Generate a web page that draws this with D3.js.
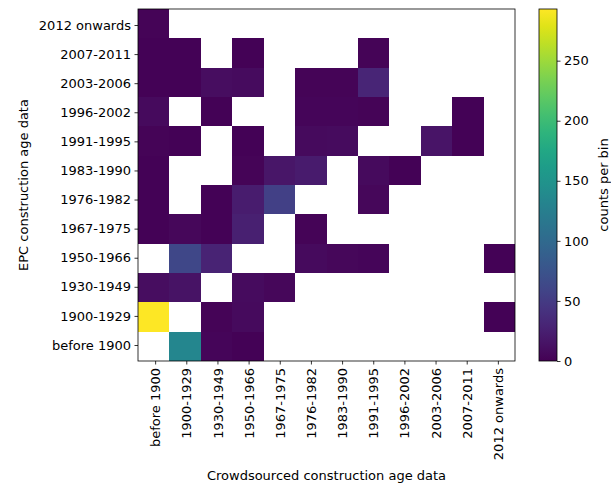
<!DOCTYPE html>
<html lang="en">
<head>
    <meta charset="UTF-8">
    <title>Construction age heatmap</title>
    <script src="https://d3js.org/d3.v7.min.js"></script>
    <style>
        body { margin: 0; background: #fff; }
        svg { display: block; font-family: "DejaVu Sans", sans-serif; }
        .tick text { font-family: "DejaVu Sans", sans-serif; font-size: 13px; fill: #000; }
        .tick line { stroke: #000; stroke-width: 0.8; }
    </style>
</head>
<body>
    <svg id="chart" width="611" height="485"></svg>

    <script>
        // age bands, same list on both axes
        const xBands = ['before 1900', '1900-1929', '1930-1949', '1950-1966', '1967-1975', '1976-1982',
                        '1983-1990', '1991-1995', '1996-2002', '2003-2006', '2007-2011', '2012 onwards'];
        const yBands = xBands.slice();

        // counts per bin, one row per EPC band (before 1900 first), null = empty bin
        const rowBefore1900 = [null, 135, 4, 2, null, null, null, null, null, null, null, null];
        const row1900_1929  = [293, null, 3, 7, null, null, null, null, null, null, null, 2];
        const row1930_1949  = [10, 14, null, 9, 5, null, null, null, null, null, null, null];
        const row1950_1966  = [null, 62, 28, null, null, 8, 5, 4, null, null, null, 2];
        const row1967_1975  = [2, 5, 2, 26, null, 3, null, null, null, null, null, null];
        const row1976_1982  = [2, null, 2, 22, 55, null, null, 5, null, null, null, null];
        const row1983_1990  = [2, null, null, 3, 17, 21, null, 7, 2, null, null, null];
        const row1991_1995  = [3, 2, null, 2, null, 7, 9, null, null, 15, 2, null];
        const row1996_2002  = [8, null, 2, null, null, 4, 4, 3, null, null, 2, null];
        const row2003_2006  = [2, 2, 10, 9, null, 3, 3, 30, null, null, null, null];
        const row2007_2011  = [2, 2, null, 2, null, null, null, 3, null, null, null, null];
        const row2012on     = [3, null, null, null, null, null, null, null, null, null, null, null];

        const counts = [rowBefore1900, row1900_1929, row1930_1949, row1950_1966, row1967_1975, row1976_1982,
                        row1983_1990, row1991_1995, row1996_2002, row2003_2006, row2007_2011, row2012on];

        const cbarTicks = [0, 50, 100, 150, 200, 250];
        const cbarMax = 293;

        var margin = {top: 9, left: 138},
            width = 377,
            height = 352;

        var svg = d3.select("#chart");
        var g = svg.append("g")
            .attr("transform", "translate(" + margin.left + "," + margin.top + ")");

        // cells fill the whole box, tick marks sit a little inside
        var x = d3.scaleBand().domain(xBands).range([0, width]);
        var y = d3.scaleBand().domain(yBands).range([height, 0]);
        var xTick = d3.scalePoint().domain(xBands).range([0, width]).padding(0.55);
        var yTick = d3.scalePoint().domain(yBands).range([height, 0]).padding(0.55);

        var color = d3.scaleSequential(d3.interpolateViridis).domain([0, cbarMax]);

        var cells = [];
        counts.forEach(function(row, i) {
            row.forEach(function(v, j) {
                if (v !== null) cells.push({x: xBands[j], y: yBands[i], value: v});
            });
        });

        g.selectAll("rect.cell")
            .data(cells)
            .enter().append("rect")
            .attr("class", "cell")
            .attr("x", d => x(d.x))
            .attr("y", d => y(d.y))
            .attr("width", x.bandwidth())
            .attr("height", y.bandwidth())
            .attr("fill", d => color(d.value))
            .attr("shape-rendering", "crispEdges");

        var xAxis = g.append("g")
            .attr("transform", "translate(0," + height + ")")
            .call(d3.axisBottom(xTick).tickSize(3.5).tickPadding(3.5));
        xAxis.select(".domain").remove();
        xAxis.selectAll(".tick text")
            .attr("transform", "rotate(-90)")
            .attr("text-anchor", "end")
            .attr("x", -7)
            .attr("y", 0)
            .attr("dy", "0.35em");

        var yAxis = g.append("g")
            .call(d3.axisLeft(yTick).tickSize(3.5).tickPadding(3.5));
        yAxis.select(".domain").remove();

        g.append("rect")
            .attr("width", width)
            .attr("height", height)
            .attr("fill", "none")
            .attr("stroke", "#000")
            .attr("stroke-width", 0.8);

        g.append("text")
            .attr("x", width / 2)
            .attr("y", 480 - margin.top)
            .attr("text-anchor", "middle")
            .attr("font-size", 13)
            .text("Crowdsourced construction age data");

        g.append("text")
            .attr("transform", "translate(" + (23 - margin.left) + "," + (height / 2) + ") rotate(-90)")
            .attr("text-anchor", "middle")
            .attr("dy", "0.35em")
            .attr("font-size", 13)
            .text("EPC construction age data");

        // colour bar
        var cbX = 539, cbW = 18;
        var cb = svg.append("g").attr("transform", "translate(" + cbX + "," + margin.top + ")");
        var cy = d3.scaleLinear().domain([0, cbarMax]).range([height, 0]);

        var grad = svg.append("defs").append("linearGradient")
            .attr("id", "viridis")
            .attr("x1", "0").attr("y1", "1").attr("x2", "0").attr("y2", "0");
        d3.range(0, 1.0001, 0.05).forEach(function(t) {
            grad.append("stop")
                .attr("offset", t)
                .attr("stop-color", d3.interpolateViridis(t));
        });

        cb.append("rect")
            .attr("width", cbW)
            .attr("height", height)
            .attr("fill", "url(#viridis)")
            .attr("stroke", "#000")
            .attr("stroke-width", 0.8);

        var cbAxis = cb.append("g")
            .attr("transform", "translate(" + cbW + ",0)")
            .call(d3.axisRight(cy).tickValues(cbarTicks).tickSize(3.5).tickPadding(3.5));
        cbAxis.select(".domain").remove();

        cb.append("text")
            .attr("transform", "translate(" + (603 - cbX) + "," + (height / 2) + ") rotate(-90)")
            .attr("text-anchor", "middle")
            .attr("dy", "0.35em")
            .attr("font-size", 13)
            .text("counts per bin");
    </script>
</body>
</html>
